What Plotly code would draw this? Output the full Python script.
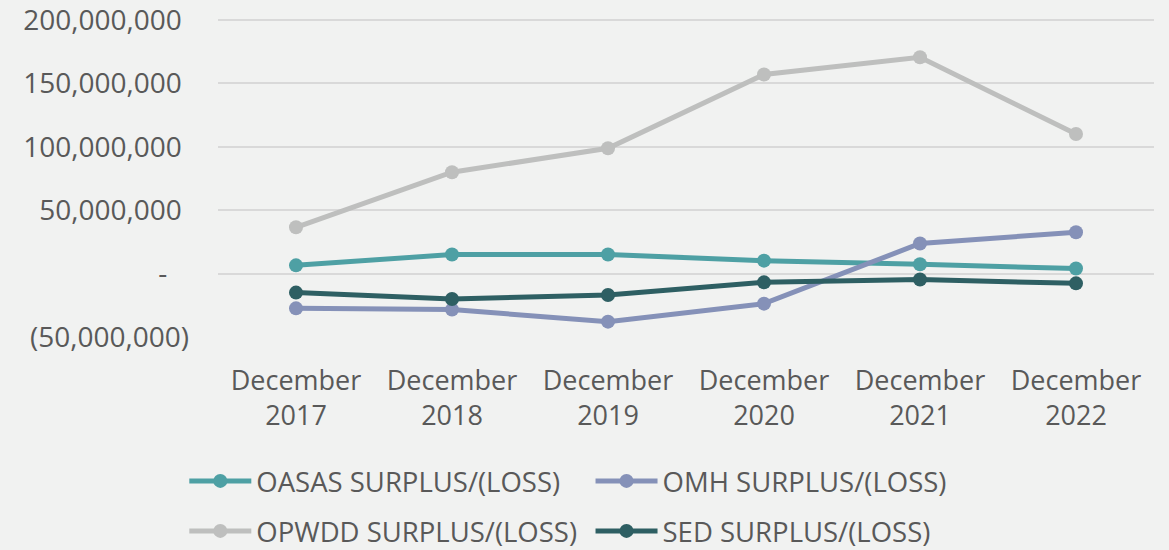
import plotly.graph_objects as go

categories = ["December<br>2017", "December<br>2018", "December<br>2019",
              "December<br>2020", "December<br>2021", "December<br>2022"]

oasas = [6.5e6, 15.0e6, 15.0e6, 10.2e6, 7.3e6, 4.0e6]
omh = [-27.4e6, -28.4e6, -37.9e6, -23.7e6, 23.7e6, 32.6e6]
opwdd = [36.5e6, 79.9e6, 98.8e6, 157.0e6, 170.5e6, 110.0e6]
sed = [-15.0e6, -20.0e6, -16.9e6, -6.9e6, -4.7e6, -7.7e6]

series_names = ["OASAS SURPLUS/(LOSS)", "OMH SURPLUS/(LOSS)",
                "OPWDD SURPLUS/(LOSS)", "SED SURPLUS/(LOSS)"]
series_values = [oasas, omh, opwdd, sed]
series_colors = ["#4EA0A4", "#8591B8", "#BEBFBE", "#2E5F63"]
series_legend = ["legend", "legend2", "legend3", "legend4"]

y_tickvals = [-50e6, 0, 50e6, 100e6, 150e6, 200e6]
y_ticktext = ["(50,000,000)", "-", "50,000,000", "100,000,000",
              "150,000,000", "200,000,000"]

NB = "\u00a0"
def pad(t):
    if t.startswith("("):
        return t
    if t == "-":
        return t + NB * 3
    return t + NB

fig = go.Figure()
for name, vals, col, lg in zip(series_names, series_values, series_colors, series_legend):
    fig.add_trace(go.Scatter(
        x=categories, y=vals, name=name, mode="lines+markers",
        line=dict(color=col, width=5),
        marker=dict(color=col, size=14),
        legend=lg,
        hoverinfo="skip",
    ))

font_family = "Open Sans"
text_color = "#595959"
bg = "#f1f2f1"

legend_common = dict(
    orientation="h",
    xref="paper", xanchor="left",
    yref="container", yanchor="middle",
    font=dict(size=27.5, color=text_color, family=font_family),
    bgcolor="rgba(0,0,0,0)",
    itemwidth=62,
)
col_x = [-0.036, 0.398]
row_y = [69 / 550, 19 / 550]

fig.update_layout(
    width=1169, height=550,
    margin=dict(l=218, r=15, t=18, b=213, autoexpand=False),
    paper_bgcolor=bg,
    plot_bgcolor=bg,
    font=dict(family=font_family, color=text_color, size=27),
    showlegend=True,
    legend=dict(legend_common, x=col_x[0], y=row_y[0]),
    legend2=dict(legend_common, x=col_x[1], y=row_y[0]),
    legend3=dict(legend_common, x=col_x[0], y=row_y[1]),
    legend4=dict(legend_common, x=col_x[1], y=row_y[1]),
    xaxis=dict(
        type="category",
        range=[-0.5, 5.5],
        showgrid=False, zeroline=False, showline=False,
        tickfont=dict(size=27, color=text_color),
        ticks="",
        ticklabelstandoff=25,
    ),
    yaxis=dict(
        range=[-50.0e6, 201.5e6],
        tickvals=y_tickvals,
        ticktext=[pad(t) for t in y_ticktext],
        showgrid=True, gridcolor="#D9D9D9", gridwidth=1.5,
        zeroline=False, showline=False,
        tickfont=dict(size=28, color=text_color),
        ticklabelstandoff=28,
        ticklabeloverflow="allow",
    ),
)

fig.write_html("out.html", config={"displayModeBar": False},
               post_script="document.body.style.margin='0';")
